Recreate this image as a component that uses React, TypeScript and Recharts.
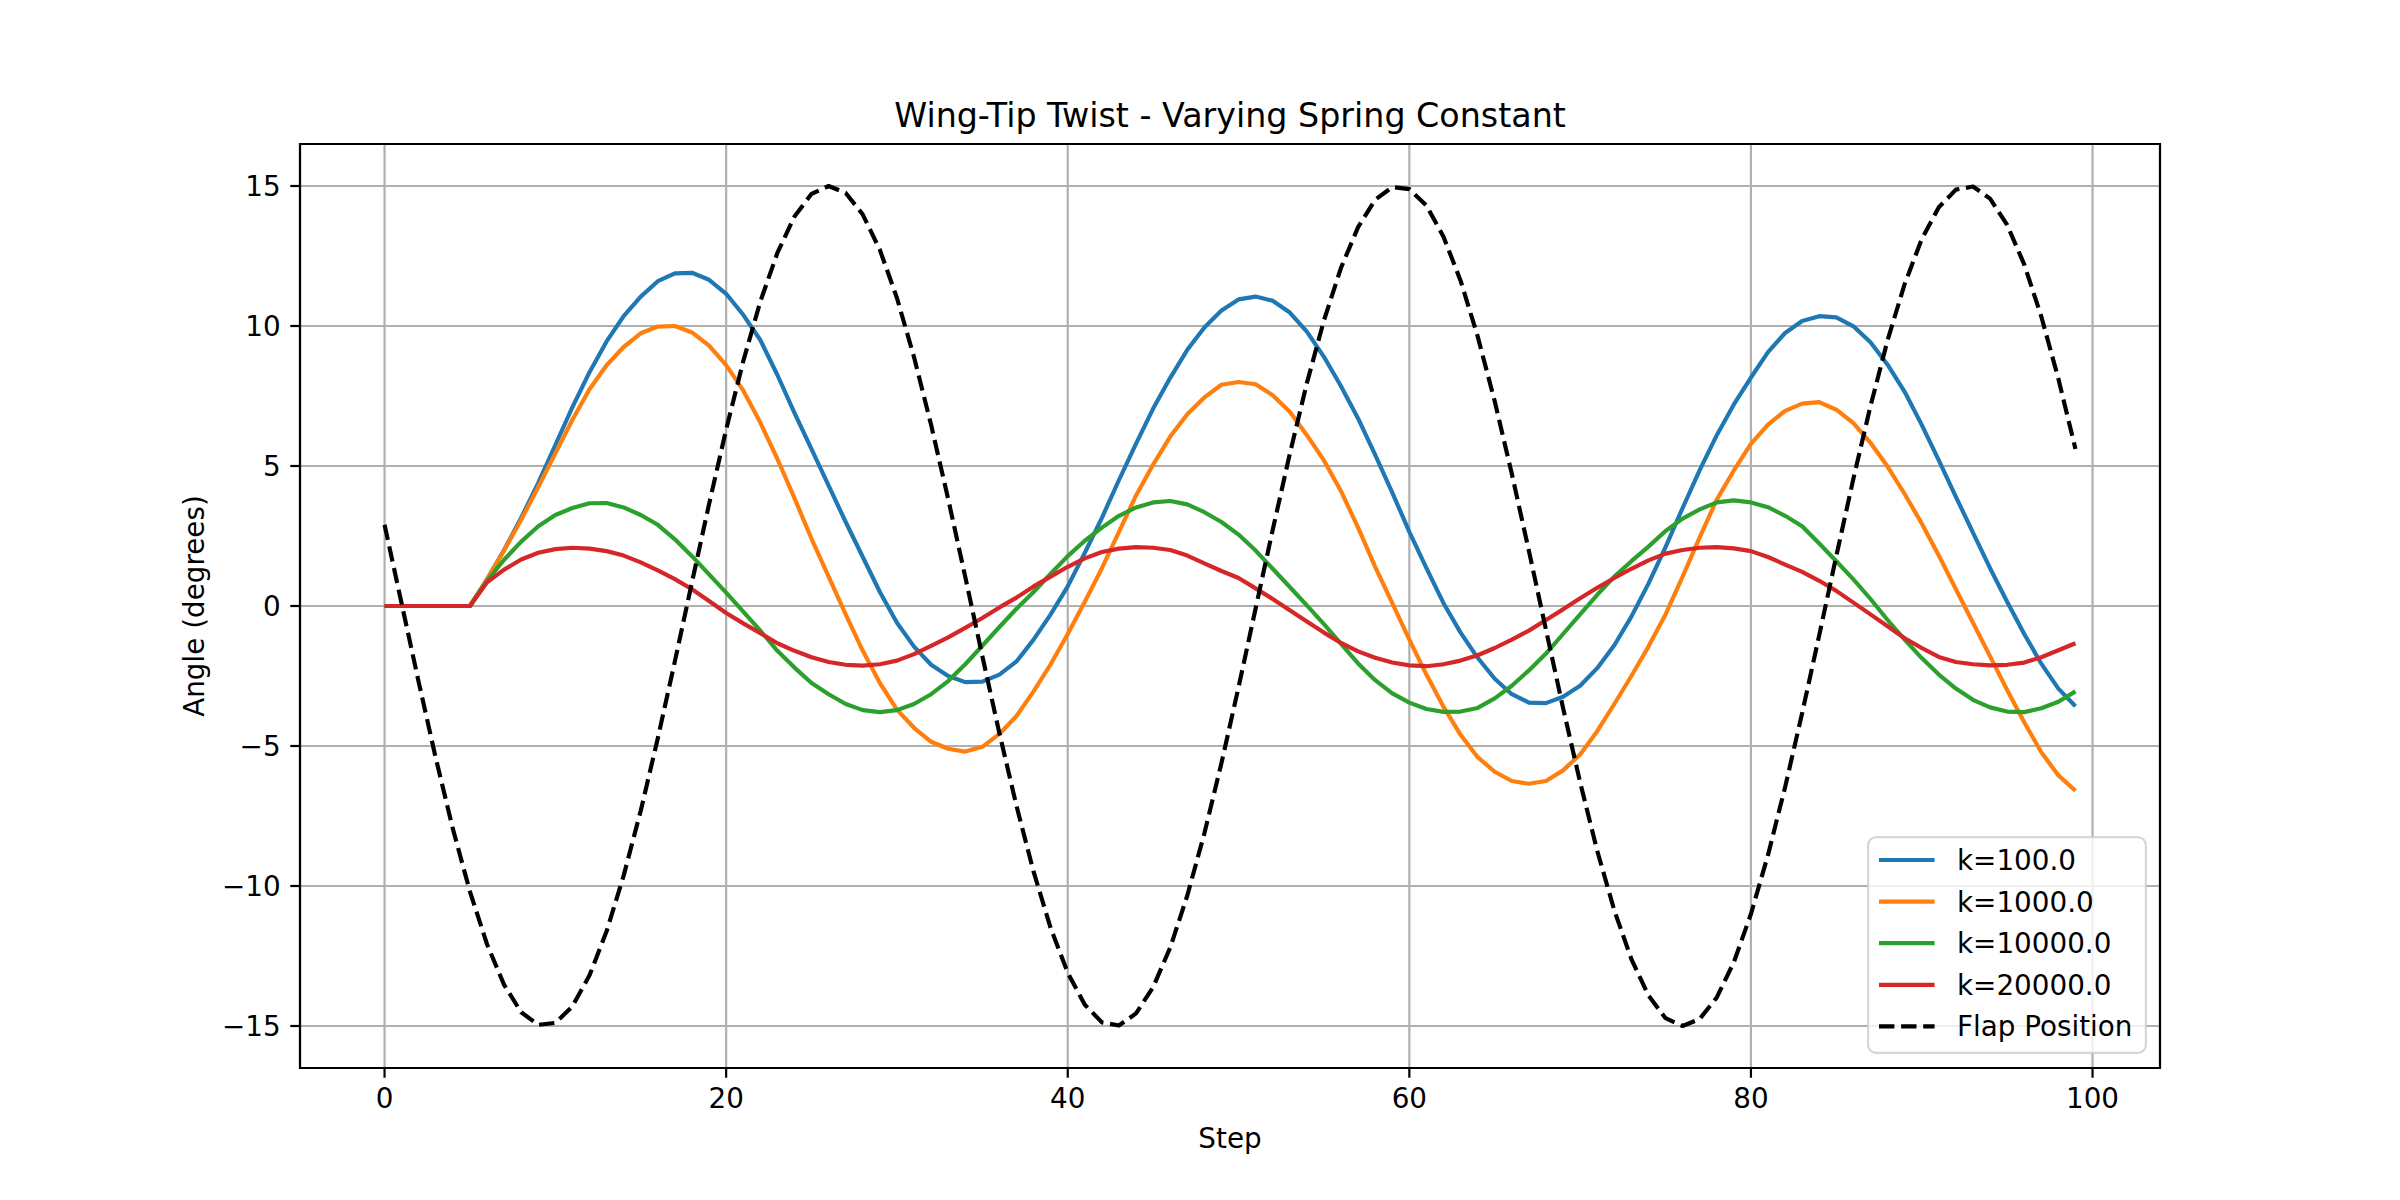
import React from 'react';
import { LineChart, Line, XAxis, YAxis, CartesianGrid, ReferenceArea, Legend, Label } from 'recharts';

const FONT = "'DejaVu Sans', 'Liberation Sans', sans-serif";

// Wing-tip twist (degrees) per simulation step, one array per spring constant
const K100 = [
  0, 0, 0, 0, 0, 0, 0.95, 2.0, 3.15, 4.4,
  5.75, 7.1, 8.35, 9.45, 10.35, 11.05, 11.6, 11.88, 11.9, 11.65,
  11.15, 10.4, 9.5, 8.25, 6.9, 5.6, 4.3, 3.0, 1.75, 0.5,
  -0.6, -1.45, -2.1, -2.5, -2.72, -2.7, -2.45, -1.98, -1.2, -0.3,
  0.7, 1.9, 3.15, 4.5, 5.8, 7.05, 8.15, 9.15, 9.95, 10.55,
  10.95, 11.05, 10.9, 10.48, 9.8, 8.9, 7.85, 6.7, 5.4, 4.05,
  2.65, 1.35, 0.1, -0.95, -1.85, -2.6, -3.15, -3.45, -3.47, -3.24,
  -2.85, -2.22, -1.4, -0.38, 0.8, 2.1, 3.5, 4.85, 6.1, 7.2,
  8.16, 9.07, 9.75, 10.18, 10.35, 10.31, 9.99, 9.42, 8.62, 7.65,
  6.47, 5.2, 3.9, 2.62, 1.35, 0.15, -1.0, -2.06, -2.95, -3.58,
];

const K1000 = [
  0, 0, 0, 0, 0, 0, 0.95, 1.98, 3.08, 4.25,
  5.45, 6.65, 7.74, 8.6, 9.25, 9.74, 9.98, 10.0, 9.77, 9.3,
  8.6, 7.7, 6.55, 5.25, 3.85, 2.4, 1.05, -0.3, -1.6, -2.75,
  -3.7, -4.35, -4.85, -5.1, -5.2, -5.03, -4.57, -3.93, -3.05, -2.08,
  -1.0, 0.15, 1.35, 2.65, 3.95, 5.05, 6.05, 6.85, 7.45, 7.9,
  8.0, 7.92, 7.53, 6.94, 6.1, 5.2, 4.1, 2.8, 1.4, 0.1,
  -1.2, -2.45, -3.6, -4.6, -5.4, -5.92, -6.25, -6.35, -6.25, -5.87,
  -5.3, -4.47, -3.5, -2.5, -1.45, -0.3, 1.05, 2.45, 3.8, 4.84,
  5.79, 6.48, 6.97, 7.23, 7.28, 7.01, 6.53, 5.83, 4.98, 4.0,
  2.95, 1.8, 0.6, -0.6, -1.8, -3.0, -4.15, -5.22, -6.05, -6.6,
];

const K10000 = [
  0, 0, 0, 0, 0, 0, 0.9, 1.65, 2.3, 2.85,
  3.25, 3.5, 3.67, 3.68, 3.52, 3.25, 2.9, 2.38, 1.78, 1.13,
  0.48, -0.2, -0.88, -1.6, -2.2, -2.75, -3.15, -3.5, -3.72, -3.79,
  -3.72, -3.5, -3.15, -2.68, -2.08, -1.42, -0.75, -0.1, 0.5, 1.15,
  1.78, 2.33, 2.8, 3.22, 3.52, 3.7, 3.75, 3.63, 3.35, 3.0,
  2.55, 1.98, 1.33, 0.68, 0.02, -0.65, -1.35, -2.05, -2.65, -3.12,
  -3.45, -3.68, -3.78, -3.77, -3.64, -3.3, -2.85, -2.3, -1.7, -1.0,
  -0.3, 0.4, 1.05, 1.6, 2.12, 2.68, 3.12, 3.45, 3.7, 3.77,
  3.7, 3.53, 3.22, 2.85, 2.23, 1.6, 0.95, 0.25, -0.5, -1.2,
  -1.86, -2.45, -2.95, -3.35, -3.62, -3.77, -3.79, -3.65, -3.42, -3.05,
];

const K20000 = [
  0, 0, 0, 0, 0, 0, 0.85, 1.3, 1.66, 1.9,
  2.03, 2.08, 2.05, 1.96, 1.8, 1.56, 1.27, 0.96, 0.6, 0.18,
  -0.25, -0.62, -0.97, -1.33, -1.6, -1.83, -2.0, -2.1, -2.13, -2.08,
  -1.95, -1.72, -1.42, -1.12, -0.78, -0.43, -0.05, 0.3, 0.7, 1.05,
  1.4, 1.7, 1.93, 2.05, 2.1, 2.08, 2.0, 1.8, 1.52, 1.25,
  1.0, 0.63, 0.25, -0.15, -0.55, -0.95, -1.32, -1.62, -1.85, -2.02,
  -2.12, -2.15, -2.08, -1.95, -1.76, -1.5, -1.2, -0.88, -0.5, -0.12,
  0.28, 0.65, 1.0, 1.33, 1.63, 1.87, 2.0, 2.08, 2.1, 2.06,
  1.96, 1.75, 1.48, 1.22, 0.9, 0.54, 0.12, -0.3, -0.72, -1.15,
  -1.5, -1.82, -2.0, -2.08, -2.12, -2.1, -2.02, -1.83, -1.58, -1.33,
];

// Prescribed flap angle (degrees)
const FLAP = [
  2.9, 0.09, -2.72, -5.43, -7.96, -10.2, -12.08, -13.53, -14.51, -14.96,
  -14.89, -14.3, -13.19, -11.62, -9.63, -7.31, -4.72, -1.97, 0.85, 3.64,
  6.3, 8.74, 10.87, 12.61, 13.91, 14.72, 15.0, 14.75, 13.98, 12.72,
  11.0, 8.89, 6.47, 3.82, 1.04, -1.79, -4.55, -7.14, -9.49, -11.5,
  -13.1, -14.24, -14.87, -14.98, -14.55, -13.61, -12.2, -10.34, -8.12, -5.61,
  -2.9, -0.09, 2.72, 5.43, 7.96, 10.2, 12.08, 13.53, 14.51, 14.96,
  14.89, 14.3, 13.19, 11.62, 9.63, 7.31, 4.72, 1.97, -0.85, -3.64,
  -6.3, -8.74, -10.87, -12.61, -13.91, -14.72, -15.0, -14.75, -13.98, -12.72,
  -11.0, -8.89, -6.47, -3.82, -1.04, 1.79, 4.55, 7.14, 9.49, 11.5,
  13.1, 14.24, 14.87, 14.98, 14.55, 13.61, 12.2, 10.34, 8.12, 5.61,
];

const X_TICKS = [0, 20, 40, 60, 80, 100];
const Y_TICKS = [-15, -10, -5, 0, 5, 10, 15];
const X_DOMAIN: [number, number] = [-4.95, 103.95];
const Y_DOMAIN: [number, number] = [-16.5, 16.5];

const TITLE = 'Wing-Tip Twist - Varying Spring Constant';
const X_LABEL = 'Step';
const Y_LABEL = 'Angle (degrees)';

type Series = { key: string; label: string; color: string; values: number[]; dash?: string };

const SERIES: Series[] = [
  { key: 'k100', label: 'k=100.0', color: '#1f77b4', values: K100 },
  { key: 'k1000', label: 'k=1000.0', color: '#ff7f0e', values: K1000 },
  { key: 'k10000', label: 'k=10000.0', color: '#2ca02c', values: K10000 },
  { key: 'k20000', label: 'k=20000.0', color: '#d62728', values: K20000 },
  { key: 'flap', label: 'Flap Position', color: '#000000', values: FLAP, dash: '15.4 6.7' },
];

const data = FLAP.map((_, i) => {
  const row: Record<string, number> = { step: i };
  SERIES.forEach((s) => {
    row[s.key] = s.values[i];
  });
  return row;
});

const fmt = (v: number) => (v < 0 ? '\u2212' + Math.abs(v) : String(v));

const textStyle = { fontFamily: FONT, fill: '#000' };

const TitleText = (props: any) => {
  const vb = props.viewBox || { x: 300, y: 144, width: 1860 };
  return (
    <text x={vb.x + vb.width / 2} y={vb.y - 17} textAnchor="middle" fontSize={33.3} style={textStyle}>
      {TITLE}
    </text>
  );
};

const XTitle = (props: any) => {
  const vb = props.viewBox || { x: 300, y: 1068, width: 1860 };
  return (
    <text x={vb.x + vb.width / 2} y={vb.y + 80} textAnchor="middle" fontSize={27.8} style={textStyle}>
      {X_LABEL}
    </text>
  );
};

const YTitle = (props: any) => {
  const vb = props.viewBox || { x: 220, y: 144, width: 80, height: 924 };
  const x = vb.x + vb.width - 96;
  const y = vb.y + vb.height / 2;
  return (
    <text x={x} y={y} transform={`rotate(-90, ${x}, ${y})`} textAnchor="middle" fontSize={27.8} style={textStyle}>
      {Y_LABEL}
    </text>
  );
};

const LegendBox = () => (
  <svg width={280} height={218} style={{ display: 'block' }}>
    <rect
      x={1.1}
      y={1.1}
      width={277.8}
      height={215.8}
      rx={8}
      fill="#ffffff"
      fillOpacity={0.8}
      stroke="#cccccc"
      strokeOpacity={0.8}
      strokeWidth={2.2}
    />
    {SERIES.map((s, i) => {
      const cy = 24 + i * 41.6;
      return (
        <g key={s.key}>
          <line x1={12} x2={67.6} y1={cy} y2={cy} stroke={s.color} strokeWidth={4.17} strokeDasharray={s.dash} />
          <text x={90} y={cy + 9.9} fontSize={27.8} style={textStyle}>
            {s.label}
          </text>
        </g>
      );
    })}
  </svg>
);

export default function App() {
  return (
    <div style={{ position: 'absolute', left: 0, top: 0, width: 2400, height: 1200, background: '#ffffff' }}>
      <LineChart width={2400} height={1200} data={data} margin={{ top: 144, right: 240, bottom: 72, left: 220 }}>
        <CartesianGrid stroke="#b0b0b0" strokeWidth={2.2} />
        <XAxis
          dataKey="step"
          type="number"
          domain={X_DOMAIN}
          ticks={X_TICKS}
          interval={0}
          height={60}
          tickSize={9.7}
          tickMargin={11}
          axisLine={false}
          tickLine={{ stroke: '#000', strokeWidth: 2.2 }}
          tick={{ fill: '#000', fontSize: 27.8, fontFamily: FONT }}
          tickFormatter={fmt}
        >
          <Label content={XTitle} />
        </XAxis>
        <YAxis
          type="number"
          domain={Y_DOMAIN}
          ticks={Y_TICKS}
          interval={0}
          width={80}
          tickSize={9.7}
          tickMargin={9.7}
          axisLine={false}
          tickLine={{ stroke: '#000', strokeWidth: 2.2 }}
          tick={{ fill: '#000', fontSize: 27.8, fontFamily: FONT }}
          tickFormatter={fmt}
        >
          <Label content={YTitle} />
        </YAxis>
        {SERIES.map((s) => (
          <Line
            key={s.key}
            type="linear"
            dataKey={s.key}
            name={s.label}
            stroke={s.color}
            strokeWidth={4.17}
            strokeDasharray={s.dash}
            strokeLinejoin="round"
            dot={false}
            activeDot={false}
            isAnimationActive={false}
          />
        ))}
        <ReferenceArea
          x1={X_DOMAIN[0]}
          x2={X_DOMAIN[1]}
          y1={Y_DOMAIN[0]}
          y2={Y_DOMAIN[1]}
          fill="none"
          stroke="#000"
          strokeWidth={2.2}
          label={{ content: TitleText }}
        />
        <Legend
          layout="horizontal"
          verticalAlign="middle"
          align="center"
          wrapperStyle={{ position: 'absolute', left: 1867, top: 836, width: 280, height: 218 }}
          content={LegendBox}
        />
      </LineChart>
    </div>
  );
}
